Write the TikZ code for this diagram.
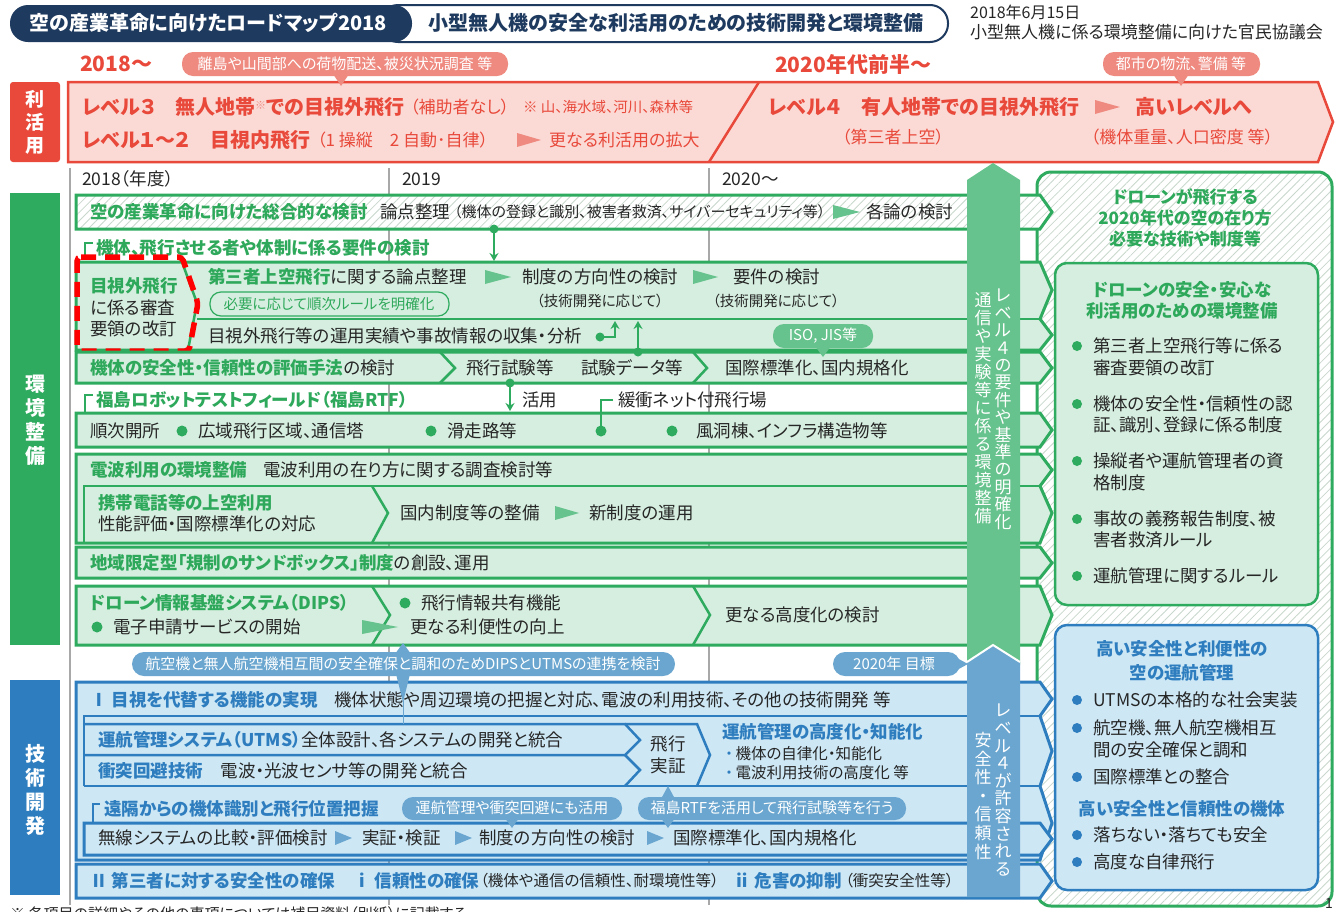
\documentclass[tikz,border=0pt]{standalone}
\usepackage{fontspec}
\setmainfont{Noto Sans CJK JP}[RawFeature=+palt]
\usetikzlibrary{patterns.meta,arrows.meta}
\definecolor{navy}{HTML}{1E3A5F}
\definecolor{rred}{HTML}{E8493A}
\definecolor{rpink}{HTML}{FBDAD6}
\definecolor{rsalmon}{HTML}{EF8A80}
\definecolor{gline}{HTML}{2EAB5E}
\definecolor{gfill}{HTML}{D5EEDF}
\definecolor{gtext}{HTML}{2EA85A}
\definecolor{gcol}{HTML}{67C38D}
\definecolor{bline}{HTML}{2E7EBF}
\definecolor{bfill}{HTML}{CDE7F5}
\definecolor{btext}{HTML}{2E7DBE}
\definecolor{bcol}{HTML}{6AA6CF}
\definecolor{gridg}{HTML}{A8A8A8}
\definecolor{txt}{HTML}{262626}
\definecolor{hatch}{HTML}{C8D8CC}
\newcommand\fz[2]{\fontsize{#1}{#2}\selectfont}
\newcommand\tri[4]{\fill[#4] (#1,#2-7) -- (#1+#3,#2) -- (#1,#2+7) -- cycle;}
\begin{document}
\begin{tikzpicture}[x=1pt,y=-1pt,
  tx/.style={anchor=west,inner sep=0pt,font=\fz{17.5}{21},text=txt},
  gb/.style={tx,font=\bfseries\fz{17.5}{21},text=gtext},
  bb/.style={tx,font=\bfseries\fz{17.5}{21},text=btext},
  rb/.style={tx,font=\bfseries\fz{20}{24},text=rred},
  rt/.style={tx,font=\fz{17}{21},text=rred},
  sm/.style={tx,font=\fz{14.5}{17}},
  gbox/.style={draw=gline,line width=3pt,fill=gfill},
  bbox/.style={draw=bline,line width=3pt,fill=bfill},
  gsep/.style={draw=gline,line width=2.5pt},
  bsep/.style={draw=bline,line width=2.5pt},
  bub/.style={inner sep=0pt,text=white,font=\fz{15}{18}},
  vtx/.style={anchor=north,inner sep=0pt,align=center,text=white,font=\fz{17}{#1}},
  hatched/.style={preaction={fill=white},pattern={Lines[angle=45,distance=6pt,line width=0.8pt]},pattern color=hatch},
  garr/.style={gline,line width=2pt,-{Stealth[length=8pt,width=9pt]}},
]
\useasboundingbox (0,0) rectangle (1336,911);
\fill[white] (0,0) rectangle (1336,911);

% ---------- header ----------
\draw[navy,line width=2pt,fill=white,rounded corners=18pt] (380,5) rectangle (948,42);
\fill[navy,rounded corners=18pt] (10,5) rectangle (412,42);
\node[inner sep=0pt,text=white,font=\bfseries\fz{20}{24}] (title) at (208,23) {空の産業革命に向けたロードマップ2018};
\node[inner sep=0pt,text=navy,font=\bfseries\fz{20}{24}] (subtitle) at (676,23) {小型無人機の安全な利活用のための技術開発と環境整備};
\node[tx,font=\fz{16}{19}] (date) at (970,12) {2018年6月15日};
\node[tx,font=\fz{17}{20}] (council) at (970,32) {小型無人機に係る環境整備に向けた官民協議会};

\node[rb,font=\bfseries\fz{21}{25}] (y2018) at (80,64) {2018～};
\node[rb,font=\bfseries\fz{21}{25}] (y2020s) at (775,64) {2020年代前半～};

% ---------- 利活用 ----------
\fill[rred,rounded corners=3pt] (10,82) rectangle (60,162);
\node[inner sep=0pt,align=center,text=white,font=\bfseries\fz{19}{23}] (lab1) at (35,122) {利\\活\\用};
\draw[rred,line width=2.5pt,fill=rpink] (68,82) -- (1318,82) -- (1333,122) -- (1318,162) -- (68,162) -- cycle;
\draw[rred,line width=2.5pt] (759,82) -- (709,162);

\fill[rsalmon,rounded corners=11pt] (182,52) rectangle (508,76);
\fill[rsalmon] (333,74) -- (349,74) -- (341,86) -- cycle;
\node[bub] (bub1) at (345,64) {離島や山間部への荷物配送、被災状況調査 等};
\fill[rsalmon,rounded corners=11pt] (1103,52) rectangle (1260,76);
\fill[rsalmon] (1173,74) -- (1189,74) -- (1181,86) -- cycle;
\node[bub] (bub2) at (1181,64) {都市の物流、警備 等};

\node[rb] (l3a) at (82,107) {レベル３　無人地帯{\mdseries\fz{11}{12}\raisebox{5pt}{\textcolor{rsalmon}{※}}}での目視外飛行};
\node[rt] (l3b) at (410,107) {（補助者なし）};
\node[rt,font=\fz{14.5}{17}] (l3c) at (523,107) {※ 山、海水域、河川、森林等};
\node[rb] (l12a) at (82,140) {レベル１～２　目視内飛行};
\node[rt] (l12b) at (317,140) {（1 操縦　2 自動･自律）};
\tri{517}{140}{24}{rsalmon}
\node[rt] (l12c) at (549,140) {更なる利活用の拡大};
\node[rb] (l4a) at (768,107) {レベル４　有人地帯での目視外飛行};
\tri{1095}{107}{25}{rsalmon}
\node[rb] (l4b) at (1135,107) {高いレベルへ};
\node[rt,anchor=center] (l4c) at (893,137) {（第三者上空）};
\node[rt,anchor=center] (l4d) at (1182,137) {（機体重量、人口密度 等）};

% ---------- years & grid ----------
\node[tx] (yr1) at (82,179) {2018（年度）};
\node[tx] (yr2) at (402,179) {2019};
\node[tx] (yr3) at (722,179) {2020～};
\draw[gridg,line width=1.2pt] (70,168) -- (70,905);
\draw[gridg,line width=1.2pt] (389,168) -- (389,905);
\draw[gridg,line width=1.2pt] (709,168) -- (709,905);

% ---------- left labels ----------
\fill[gline] (10,193) rectangle (60,645);
\node[inner sep=0pt,align=center,text=white,font=\bfseries\fz{20}{24}] (lab2) at (35,420) {環\\境\\整\\備};
\fill[bline] (10,680) rectangle (60,895);
\node[inner sep=0pt,align=center,text=white,font=\bfseries\fz{20}{24}] (lab3) at (35,790) {技\\術\\開\\発};

% ---------- right big box ----------
\draw[gline,line width=3pt,rounded corners=14pt,hatched] (1037,172) rectangle (1332,906);
\node[align=center,inner sep=0pt,text=gtext,font=\bfseries\fz{17}{21}] (rtitle) at (1185,218) {ドローンが飛行する\\2020年代の空の在り方\\必要な技術や制度等};

% ---------- green rows ----------
% row 1
\path[draw=gline,line width=3pt,hatched] (76,195) -- (1040,195) -- (1052,212) -- (1040,229) -- (76,229) -- cycle;
\node[gb] (r1a) at (90,212) {空の産業革命に向けた総合的な検討};
\node[tx] (r1b) at (380,212) {論点整理};
\node[sm,font=\fz{15}{18}] (r1c) at (454,212) {（機体の登録と識別、被害者救済、サイバーセキュリティ等）};
\tri{833}{212}{27}{gcol}
\node[tx] (r1d) at (866,212) {各論の検討};

\node[gb,font=\bfseries\fz{17.5}{21}] (r2lab) at (96,248) {機体、飛行させる者や体制に係る要件の検討};
\draw[gline,line width=1.5pt] (93,243) -- (85,243) -- (85,259);

% row 2 group
\path[gbox] (76,262) -- (1040,262) -- (1052,290) -- (1040,319) -- (1052,335) -- (1040,350) -- (76,350) -- cycle;
\draw[gsep] (197,319) -- (1040,319);
\draw[gsep] (182,262) -- (197,303) -- (188,350);
\draw[red,line width=5.5pt,dash pattern=on 15pt off 9pt,rounded corners=4pt] (77,257) -- (182,257) -- (198,303) -- (189,351) -- (77,351) -- cycle;
\node[gb] (r2a) at (90,286) {目視外飛行};
\node[tx] (r2b) at (90,308) {に係る審査};
\node[tx] (r2c) at (90,329) {要領の改訂};
\node[tx] (r2d) at (208,277) {\textcolor{gtext}{\bfseries 第三者上空飛行}に関する論点整理};
\tri{485}{277}{26}{gcol}
\node[tx] (r2e) at (522,277) {制度の方向性の検討};
\tri{693}{277}{25}{gcol}
\node[tx] (r2f) at (733,277) {要件の検討};
\draw[gline,line width=1.2pt,rounded corners=11pt] (210,292) rectangle (449,316);
\node[inner sep=0pt,text=gtext,font=\fz{14.5}{17}] (r2g) at (329,304) {必要に応じて順次ルールを明確化};
\node[sm,anchor=center] (r2h) at (600,301) {（技術開発に応じて）};
\node[sm,anchor=center] (r2i) at (776,301) {（技術開発に応じて）};
\node[tx] (r2j) at (208,336) {目視外飛行等の運用実績や事故情報の収集・分析};

% row 3
\path[gbox] (76,352) -- (1040,352) -- (1052,368) -- (1040,383) -- (76,383) -- cycle;
\draw[gsep] (440,352) -- (455,368) -- (440,383);
\draw[gsep] (693,352) -- (707,368) -- (693,383);
\node[tx] (r3a) at (90,368) {\textcolor{gtext}{\bfseries 機体の安全性・信頼性の評価手法}の検討};
\node[tx] (r3b) at (466,368) {飛行試験等};
\node[tx] (r3c) at (581,368) {試験データ等};
\node[tx] (r3d) at (725,368) {国際標準化、国内規格化};

% connectors row1->row2, row2 internal
\coordinate (c1a) at (494,229); \coordinate (c1b) at (494,261);
\fill[gline] (c1a) circle[radius=4.5];
\draw[garr] (c1a) -- (c1b);
\coordinate (c2a) at (600,337); \coordinate (c2b) at (615,337); \coordinate (c2c) at (615,321);
\fill[gline] (c2a) circle[radius=4.5];
\draw[garr] (c2a) -- (c2b) -- (c2c);
\coordinate (c3a) at (638,352); \coordinate (c3b) at (638,321);
\fill[gline] (c3a) circle[radius=4.5];
\draw[garr] (c3a) -- (c3b);

% ISO bubble
\fill[gcol,rounded corners=11pt] (773,324) rectangle (873,348);
\fill[gcol] (815,346) -- (831,346) -- (823,357) -- cycle;
\node[bub] (iso) at (823,336) {ISO, JIS等};

% row 4
\node[gb,font=\bfseries\fz{17.5}{21}] (r4lab) at (96,400) {福島ロボットテストフィールド（福島RTF）};
\draw[gline,line width=1.5pt] (93,395) -- (85,395) -- (85,413);
\node[tx] (r4lab2) at (618,400) {緩衝ネット付飛行場};
\coordinate (c4a) at (510,383); \coordinate (c4b) at (510,411);
\fill[gline] (c4a) circle[radius=4.5];
\draw[garr] (c4a) -- (c4b);
\node[tx] (katsuyo) at (522,400) {活用};
\path[gbox] (76,413) -- (1040,413) -- (1052,430) -- (1040,447) -- (76,447) -- cycle;
\coordinate (c5a) at (613,400); \coordinate (c5b) at (601,400); \coordinate (c5c) at (601,431);
\draw[gline,line width=1.5pt] (c5a) -- (c5b) -- (c5c);
\node[tx] (r4a) at (90,431) {順次開所};
\fill[gline] (182,431) circle[radius=5.5];
\node[tx] (r4b) at (198,431) {広域飛行区域、通信塔};
\fill[gline] (431,431) circle[radius=5.5];
\node[tx] (r4c) at (447,431) {滑走路等};
\fill[gline] (c5c) circle[radius=5.5];
\fill[gline] (672,431) circle[radius=5.5];
\node[tx] (r4d) at (696,431) {風洞棟、インフラ構造物等};

% row 5 group
\path[gbox] (76,454) -- (1040,454) -- (1052,470) -- (1040,486) -- (1052,513) -- (1040,543) -- (76,543) -- cycle;
\draw[gsep] (84,543) -- (84,486) -- (1040,486);
\draw[gsep] (372,486) -- (388,513) -- (372,543);
\node[tx] (r5a) at (90,470) {\textcolor{gtext}{\bfseries 電波利用の環境整備}};
\node[tx] (r5b) at (263,470) {電波利用の在り方に関する調査検討等};
\node[gb] (r5c) at (98,503) {携帯電話等の上空利用};
\node[tx] (r5d) at (98,524) {性能評価・国際標準化の対応};
\node[tx] (r5e) at (400,513) {国内制度等の整備};
\tri{555}{513}{24}{gcol}
\node[tx] (r5f) at (589,513) {新制度の運用};

% row 6
\path[gbox] (76,547) -- (1040,547) -- (1052,563) -- (1040,578) -- (76,578) -- cycle;
\node[tx] (r6a) at (90,563) {\textcolor{gtext}{\bfseries 地域限定型「規制のサンドボックス」制度}の創設、運用};

% row 7
\path[gbox] (76,586) -- (1040,586) -- (1052,615) -- (1040,645) -- (76,645) -- cycle;
\draw[gsep] (372,586) -- (390,615) -- (372,645);
\draw[gsep] (693,586) -- (710,615) -- (693,645);
\node[gb] (r7a) at (90,603) {ドローン情報基盤システム（DIPS）};
\fill[gline] (97,627) circle[radius=5.5];
\node[tx] (r7b) at (113,627) {電子申請サービスの開始};
\fill[gline] (405,603) circle[radius=5.5];
\node[tx] (r7c) at (421,603) {飛行情報共有機能};
\tri{362}{627}{36}{gcol}
\node[tx] (r7d) at (410,627) {更なる利便性の向上};
\node[tx] (r7e) at (725,615) {更なる高度化の検討};

% ---------- blue section ----------
\path[bbox] (76,682) -- (1040,682) -- (1052,699) -- (1040,716) -- (1052,751) -- (1040,786) -- (1052,823) -- (1040,860) -- (76,860) -- cycle;
\draw[bsep] (84,786) -- (84,716) -- (1040,716);
\draw[bsep] (84,786) -- (1040,786);
\draw[bsep] (84,724) -- (625,724) -- (640,740) -- (625,755) -- (84,755);
\draw[bsep] (625,755) -- (640,770) -- (625,786);
\draw[bsep] (625,724) -- (697,724) -- (710,755) -- (697,786);
\node[tx] (b1a) at (90,700) {\textcolor{btext}{\bfseries Ⅰ 目視を代替する機能の実現}};
\node[tx] (b1b) at (334,700) {機体状態や周辺環境の把握と対応、電波の利用技術、その他の技術開発 等};
\node[tx] (b2a) at (98,740) {\textcolor{btext}{\bfseries 運航管理システム（UTMS）}全体設計、各システムの開発と統合};
\node[tx] (b2b) at (98,771) {\textcolor{btext}{\bfseries 衝突回避技術}　電波・光波センサ等の開発と統合};
\node[inner sep=0pt,align=center,text=txt,font=\fz{17.5}{22}] (b2c) at (668,755) {飛行\\実証};
\node[bb] (b2d) at (722,732) {運航管理の高度化・知能化};
\node[sm,font=\fz{15.5}{18}] (b2e) at (725,754) {\textcolor{btext}{・}\,機体の自律化・知能化};
\node[sm,font=\fz{15.5}{18}] (b2f) at (725,773) {\textcolor{btext}{・}\,電波利用技術の高度化 等};

\node[bb] (b3lab) at (104,809) {遠隔からの機体識別と飛行位置把握};
\draw[bline,line width=1.5pt] (100,804) -- (93,804) -- (93,823);
\path[bbox] (84,823) -- (1040,823) -- (1052,839) -- (1040,855) -- (84,855) -- cycle;
\node[tx] (b3a) at (98,838) {無線システムの比較・評価検討};
\tri{335}{838}{17}{bcol}
\node[tx] (b3b) at (362,838) {実証・検証};
\tri{455}{838}{17}{bcol}
\node[tx] (b3c) at (479,838) {制度の方向性の検討};
\tri{647}{838}{17}{bcol}
\node[tx] (b3d) at (673,838) {国際標準化、国内規格化};

\path[bbox] (76,864) -- (1040,864) -- (1052,881) -- (1040,898) -- (76,898) -- cycle;
\node[bb] (b4a) at (90,881) {Ⅱ 第三者に対する安全性の確保};
\node[bb] (b4b) at (353,881) {ⅰ 信頼性の確保};
\node[sm,font=\fz{15.5}{18}] (b4c) at (480,881) {（機体や通信の信頼性、耐環境性等）};
\node[bb] (b4d) at (733,881) {ⅱ 危害の抑制};
\node[sm,font=\fz{15.5}{18}] (b4e) at (845,881) {（衝突安全性等）};

% blue bubbles
\fill[bcol,rounded corners=12pt] (132,652) rectangle (675,676);
\fill[bcol] (395,654) -- (411,654) -- (403,643) -- cycle;
\fill[bcol] (396,674) -- (410,674) -- (403,702) -- cycle;
\draw[bcol,line width=1pt] (403,700) -- (403,724);
\node[bub,font=\fz{15}{17}] (bub3) at (403,664) {航空機と無人航空機相互間の安全確保と調和のためDIPSとUTMSの連携を検討};
\fill[bcol,rounded corners=12pt] (833,652) rectangle (960,676);
\fill[bcol] (955,657) -- (968,664) -- (955,671) -- cycle;
\node[bub] (bub4) at (894,664) {2020年 目標};
\fill[bcol,rounded corners=11pt] (402,797) rectangle (622,820);
\fill[bcol] (505,818) -- (519,818) -- (512,828) -- cycle;
\node[bub] (bub5) at (512,808) {運航管理や衝突回避にも活用};
\fill[bcol,rounded corners=11pt] (638,797) rectangle (906,820);
\fill[bcol] (661,799) -- (675,799) -- (668,786) -- cycle;
\fill[bcol] (661,818) -- (675,818) -- (668,828) -- cycle;
\node[bub] (bub6) at (772,808) {福島RTFを活用して飛行試験等を行う};

% ---------- vertical columns ----------
\fill[gcol] (967,180) -- (993,163) -- (1020,180) -- (1020,665) -- (967,665) -- cycle;
\fill[bcol] (967,662) -- (993,645) -- (1020,662) -- (1020,897) -- (967,897) -- cycle;
\draw[white,line width=2pt] (967,662) -- (993,645) -- (1020,662);
\node[vtx=17.4] (vg1) at (1003,289) {レ\\ベ\\ル\\４\\の\\要\\件\\や\\基\\準\\の\\明\\確\\化};
\node[vtx=18] (vg2) at (983,292) {通\\信\\や\\実\\験\\等\\に\\係\\る\\環\\境\\整\\備};
\node[vtx=17.6] (vb1) at (1003,704) {レ\\ベ\\ル\\４\\が\\許\\容\\さ\\れ\\る};
\node[vtx=18.6] (vb2) at (983,732) {安\\全\\性\\・\\信\\頼\\性};

% ---------- right inner boxes ----------
\draw[gline,line width=2.5pt,fill=gfill,rounded corners=12pt] (1055,263) rectangle (1318,605);
\node[align=center,inner sep=0pt,text=gtext,font=\bfseries\fz{17.5}{21}] (rg0) at (1182,300) {ドローンの安全・安心な\\利活用のための環境整備};
\fill[gline] (1077,346) circle[radius=5];
\node[tx,align=left,font=\fz{17.5}{22}] (rg1) at (1093,357) {第三者上空飛行等に係る\\審査要領の改訂};
\fill[gline] (1077,404) circle[radius=5];
\node[tx,align=left,font=\fz{17.5}{21}] (rg2) at (1093,414.5) {機体の安全性・信頼性の認\\証、識別、登録に係る制度};
\fill[gline] (1077,461) circle[radius=5];
\node[tx,align=left,font=\fz{17.5}{22}] (rg3) at (1093,472) {操縦者や運航管理者の資\\格制度};
\fill[gline] (1077,519) circle[radius=5];
\node[tx,align=left,font=\fz{17.5}{21}] (rg4) at (1093,529.5) {事故の義務報告制度、被\\害者救済ルール};
\fill[gline] (1077,576) circle[radius=5];
\node[tx] (rg5) at (1093,576) {運航管理に関するルール};

\draw[bline,line width=2.5pt,fill=bfill,rounded corners=12pt] (1055,625) rectangle (1318,890);
\node[align=center,inner sep=0pt,text=btext,font=\bfseries\fz{17.5}{24}] (rb0) at (1182,661) {高い安全性と利便性の\\空の運航管理};
\fill[bline] (1077,700) circle[radius=5];
\node[tx] (rb1) at (1093,700) {UTMSの本格的な社会実装};
\fill[bline] (1077,728) circle[radius=5];
\node[tx,align=left,font=\fz{17.5}{22}] (rb2) at (1093,739) {航空機、無人航空機相互\\間の安全確保と調和};
\fill[bline] (1077,777) circle[radius=5];
\node[tx] (rb3) at (1093,777) {国際標準との整合};
\node[inner sep=0pt,text=btext,font=\bfseries\fz{17.5}{21}] (rb4) at (1182,809) {高い安全性と信頼性の機体};
\fill[bline] (1077,835) circle[radius=5];
\node[tx] (rb5) at (1093,835) {落ちない・落ちても安全};
\fill[bline] (1077,862) circle[radius=5];
\node[tx] (rb6) at (1093,862) {高度な自律飛行};

% ---------- footer ----------
\node[tx,font=\fz{15}{18}] (foot) at (10,914) {※ 各項目の詳細やその他の事項については補足資料（別紙）に記載する};
\node[tx,font=\fz{14}{16}] (pg) at (1325,903) {1};
\end{tikzpicture}
\end{document}
